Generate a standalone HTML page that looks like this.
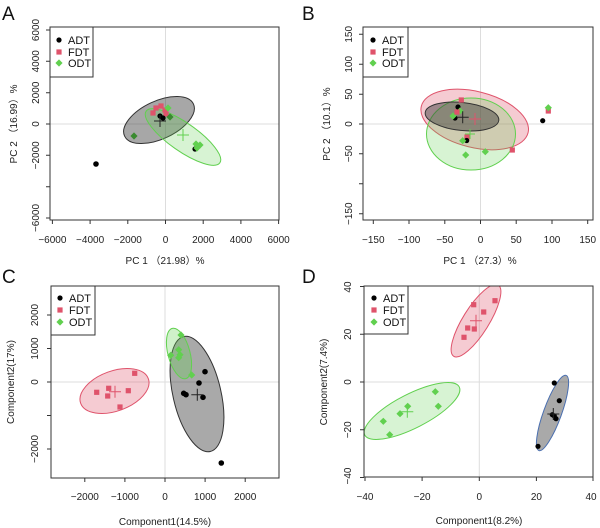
<!DOCTYPE html>
<html><head><meta charset="utf-8"><style>
body{margin:0;background:#fff}
svg{display:block;font-family:"Liberation Sans","Noto Sans CJK SC",sans-serif}
.t{font-size:10px;fill:#222}
.l{font-size:11px;fill:#111}
.L{font-size:19px;fill:#111}
</style></head><body>
<svg width="600" height="528" viewBox="0 0 600 528" xmlns="http://www.w3.org/2000/svg">
<defs>
<g id="sq"><rect x="-2.6" y="-2.6" width="5.2" height="5.2" fill="#df536b"/></g>
<g id="dm"><path d="M0,-3.6 L3.6,0 L0,3.6 L-3.6,0Z" fill="#61d04f"/></g>
<g id="dmd"><path d="M0,-3.6 L3.6,0 L0,3.6 L-3.6,0Z" fill="#3a8a30"/></g>
<clipPath id="cA"><rect x="50" y="27" width="229" height="193"/></clipPath>
<clipPath id="cB"><rect x="363" y="27" width="230" height="193"/></clipPath>
<clipPath id="cC"><rect x="51" y="286" width="228" height="192"/></clipPath>
<clipPath id="cD"><rect x="364" y="286" width="229" height="191"/></clipPath>
</defs>

<!-- Panel letters -->
<text class="L" x="2" y="20">A</text>
<text class="L" x="302" y="20">B</text>
<text class="L" x="2" y="283">C</text>
<text class="L" x="302" y="283">D</text>

<!-- ===== A ===== -->
<g clip-path="url(#cA)">
<line x1="50" y1="124" x2="279" y2="124" stroke="#ddd"/>
<line x1="165.5" y1="27" x2="165.5" y2="220" stroke="#ddd"/>
<ellipse cx="159" cy="120" rx="38" ry="19" transform="rotate(-25 159 120)" fill="rgba(60,60,60,0.45)" stroke="#333"/>
<ellipse cx="183" cy="137" rx="45" ry="14" transform="rotate(35 183 137)" fill="rgba(97,208,79,0.25)" stroke="#61d04f"/>
<circle cx="96" cy="164" r="2.8"/>
<use href="#dmd" x="134" y="136"/>
<use href="#sq" x="156" y="108"/><use href="#sq" x="161" y="106"/><use href="#sq" x="165" y="110"/><use href="#sq" x="153" y="113"/><use href="#sq" x="166" y="114"/>
<circle cx="160" cy="116" r="2.6"/><circle cx="163" cy="118" r="2.6"/>
<use href="#dm" x="168" y="108"/><use href="#dmd" x="170" y="117"/>
<circle cx="195" cy="149" r="2.6"/>
<use href="#dm" x="196" y="144"/><use href="#dm" x="200" y="145"/><use href="#dm" x="197" y="148"/>
<path d="M154,121h12M160,115v12" stroke="#222"/>
<path d="M177,135h12M183,129v12" stroke="#61d04f"/>
</g>
<rect x="50" y="27" width="229" height="193" fill="none" stroke="#333"/>
<rect x="50" y="27" width="43" height="50" fill="#fff" stroke="#333"/>
<circle cx="59" cy="40" r="2.6"/><text class="l" x="68" y="44">ADT</text>
<use href="#sq" x="59" y="52"/><text class="l" x="68" y="56">FDT</text>
<use href="#dm" x="59" y="63"/><text class="l" x="68" y="67">ODT</text>
<g stroke="#333"><path d="M52.4,220v4M90.1,220v4M127.8,220v4M165.5,220v4M203.2,220v4M240.9,220v4M278.6,220v4M50,30h-4M50,61.3h-4M50,92.7h-4M50,124h-4M50,155.3h-4M50,186.7h-4M50,218h-4"/></g>
<g class="t" text-anchor="middle">
<text x="52.4" y="243">−6000</text><text x="90.1" y="243">−4000</text><text x="127.8" y="243">−2000</text><text x="165.5" y="243">0</text><text x="203.2" y="243">2000</text><text x="240.9" y="243">4000</text><text x="278.6" y="243">6000</text>
<text transform="translate(39,30) rotate(-90)">6000</text><text transform="translate(39,61.3) rotate(-90)">4000</text><text transform="translate(39,92.7) rotate(-90)">2000</text><text transform="translate(39,124) rotate(-90)">0</text><text transform="translate(39,155.3) rotate(-90)">−2000</text><text transform="translate(39,218) rotate(-90)">−6000</text>
<text x="165" y="264">PC 1 （21.98）%</text>
<text transform="translate(17,124) rotate(-90)">PC 2 （16.99）%</text>
</g>

<!-- ===== B ===== -->
<g clip-path="url(#cB)">
<line x1="363" y1="124" x2="593" y2="124" stroke="#ddd"/>
<line x1="480.5" y1="27" x2="480.5" y2="220" stroke="#ddd"/>
<ellipse cx="474.7" cy="119.5" rx="55" ry="28" transform="rotate(14 474.7 119.5)" fill="rgba(223,83,107,0.3)" stroke="#df536b"/>
<ellipse cx="471" cy="134" rx="44.5" ry="36" fill="rgba(97,208,79,0.25)" stroke="#61d04f"/>
<ellipse cx="462" cy="116.5" rx="37" ry="14" transform="rotate(6 462 116.5)" fill="rgba(50,50,50,0.45)" stroke="#333"/>
<circle cx="542.7" cy="120.7" r="2.6"/>
<use href="#sq" x="548.3" y="111"/><use href="#dm" x="548.3" y="107.7"/>
<use href="#sq" x="512.3" y="150"/><use href="#dm" x="485.3" y="151.7"/><use href="#dm" x="465.7" y="155"/>
<use href="#sq" x="461.3" y="100"/>
<circle cx="458" cy="107" r="2.6"/><circle cx="455" cy="118" r="2.6"/>
<use href="#dm" x="460" y="111"/><use href="#dm" x="453" y="116"/><use href="#sq" x="457" y="112"/>
<use href="#sq" x="467" y="137"/><circle cx="466.7" cy="140.5" r="2.6"/><use href="#dm" x="462.7" y="140.7"/>
<path d="M456.7,117.3h12M462.7,111.3v12" stroke="#222"/>
<path d="M469,119h12M475,113v12" stroke="#df536b"/>
<path d="M465,134h10M470,129v10" stroke="#61d04f"/>
</g>
<rect x="363" y="27" width="230" height="193" fill="none" stroke="#333"/>
<rect x="363" y="27" width="45" height="50" fill="#fff" stroke="#333"/>
<circle cx="373" cy="40" r="2.6"/><text class="l" x="382" y="44">ADT</text>
<use href="#sq" x="373" y="52"/><text class="l" x="382" y="56">FDT</text>
<use href="#dm" x="373" y="63"/><text class="l" x="382" y="67">ODT</text>
<g stroke="#333"><path d="M373.3,220v4M409,220v4M444.8,220v4M480.5,220v4M516.2,220v4M552,220v4M587.7,220v4M363,34.3h-4M363,64.3h-4M363,94.2h-4M363,124h-4M363,153.8h-4M363,183.8h-4M363,213.7h-4"/></g>
<g class="t" text-anchor="middle">
<text x="373.3" y="243">−150</text><text x="409" y="243">−100</text><text x="444.8" y="243">−50</text><text x="480.5" y="243">0</text><text x="516.2" y="243">50</text><text x="552" y="243">100</text><text x="587.7" y="243">150</text>
<text transform="translate(352,34.3) rotate(-90)">150</text><text transform="translate(352,64.3) rotate(-90)">100</text><text transform="translate(352,94.2) rotate(-90)">50</text><text transform="translate(352,124) rotate(-90)">0</text><text transform="translate(352,153.8) rotate(-90)">−50</text><text transform="translate(352,213.7) rotate(-90)">−150</text>
<text x="480" y="264">PC 1 （27.3）%</text>
<text transform="translate(330,124) rotate(-90)">PC 2 （10.1）%</text>
</g>

<!-- ===== C ===== -->
<g clip-path="url(#cC)">
<line x1="51" y1="382" x2="279" y2="382" stroke="#ddd"/>
<line x1="165" y1="286" x2="165" y2="478" stroke="#ddd"/>
<ellipse cx="114.5" cy="391" rx="36" ry="20" transform="rotate(-20 114.5 391)" fill="rgba(223,83,107,0.3)" stroke="#df536b"/>
<ellipse cx="197" cy="394" rx="24" ry="59" transform="rotate(-13 197 394)" fill="rgba(50,50,50,0.42)" stroke="#333"/>
<ellipse cx="179" cy="353.5" rx="11" ry="26" transform="rotate(-15 179 353.5)" fill="rgba(97,208,79,0.3)" stroke="#61d04f"/>
<use href="#sq" x="96.7" y="392.3"/><use href="#sq" x="108.7" y="388.3"/><use href="#sq" x="107.7" y="396"/><use href="#sq" x="120" y="407"/><use href="#sq" x="128.3" y="390.7"/><use href="#sq" x="134.7" y="373.3"/>
<use href="#dm" x="181" y="335"/><use href="#dm" x="178.7" y="349.7"/><use href="#dm" x="170.7" y="355.3"/><use href="#dm" x="180" y="354.7"/><use href="#dm" x="178.7" y="357.7"/><use href="#dm" x="191.7" y="375"/>
<circle cx="205" cy="371.7" r="2.8"/><circle cx="199" cy="383" r="2.8"/><circle cx="183.7" cy="393.3" r="2.8"/><circle cx="186" cy="394.7" r="2.8"/><circle cx="203" cy="397.3" r="2.8"/><circle cx="221.3" cy="463" r="2.8"/>
<path d="M191.3,394.7h12M197.3,388.7v12" stroke="#222"/>
<path d="M109,391.7h12M115,385.7v12" stroke="#df536b"/>
</g>
<rect x="51" y="286" width="228" height="192" fill="none" stroke="#333"/>
<rect x="51" y="286" width="44" height="49" fill="#fff" stroke="#333"/>
<circle cx="60" cy="298" r="2.6"/><text class="l" x="69" y="302">ADT</text>
<use href="#sq" x="60" y="310"/><text class="l" x="69" y="314">FDT</text>
<use href="#dm" x="60" y="322"/><text class="l" x="69" y="326">ODT</text>
<g stroke="#333"><path d="M84.8,478v4M124.9,478v4M165,478v4M205.1,478v4M245.2,478v4M51,315h-4M51,348.5h-4M51,382h-4M51,415.5h-4M51,449h-4"/></g>
<g class="t" text-anchor="middle">
<text x="84.8" y="500">−2000</text><text x="124.9" y="500">−1000</text><text x="165" y="500">0</text><text x="205.1" y="500">1000</text><text x="245.2" y="500">2000</text>
<text transform="translate(38,315) rotate(-90)">2000</text><text transform="translate(38,348.5) rotate(-90)">1000</text><text transform="translate(38,382) rotate(-90)">0</text><text transform="translate(38,449) rotate(-90)">−2000</text>
<text x="165" y="525">Component1(14.5%)</text>
<text transform="translate(14,382) rotate(-90)">Component2(17%)</text>
</g>

<!-- ===== D ===== -->
<g clip-path="url(#cD)">
<line x1="364" y1="382" x2="593" y2="382" stroke="#ddd"/>
<line x1="479.3" y1="286" x2="479.3" y2="477" stroke="#ddd"/>
<ellipse cx="476" cy="320.7" rx="42" ry="13" transform="rotate(-58 476 320.7)" fill="rgba(223,83,107,0.3)" stroke="#df536b"/>
<ellipse cx="412" cy="411" rx="53" ry="17" transform="rotate(-27 412 411)" fill="rgba(97,208,79,0.25)" stroke="#61d04f"/>
<ellipse cx="552.5" cy="413" rx="40" ry="9" transform="rotate(-70 552.5 413)" fill="rgba(50,50,50,0.42)" stroke="#4a6fb0"/>
<use href="#sq" x="464" y="337.3"/><use href="#sq" x="467.7" y="328"/><use href="#sq" x="474.3" y="329"/><use href="#sq" x="473.7" y="304.7"/><use href="#sq" x="483.7" y="312"/><use href="#sq" x="495" y="300.7"/>
<use href="#dm" x="383.3" y="421.3"/><use href="#dm" x="389.7" y="434.7"/><use href="#dm" x="400" y="413.7"/><use href="#dm" x="407.7" y="406.3"/><use href="#dm" x="435.3" y="391.7"/><use href="#dm" x="438.3" y="406.3"/>
<circle cx="538" cy="446.3" r="2.6"/><circle cx="554.3" cy="383" r="2.6"/><circle cx="559.3" cy="400.7" r="2.6"/><circle cx="552.3" cy="414.7" r="2.6"/><circle cx="556" cy="418.7" r="2.6"/><circle cx="554.3" cy="416" r="2.6"/>
<path d="M547.3,414h12M553.3,408v12" stroke="#222"/>
<path d="M470,320.7h12M476,314.7v12" stroke="#df536b"/>
<path d="M401.3,411.7h12M407.3,405.7v12" stroke="#61d04f"/>
</g>
<rect x="364" y="286" width="229" height="191" fill="none" stroke="#333"/>
<rect x="364" y="286" width="44" height="48" fill="#fff" stroke="#333"/>
<circle cx="374" cy="298" r="2.6"/><text class="l" x="383" y="302">ADT</text>
<use href="#sq" x="374" y="310"/><text class="l" x="383" y="314">FDT</text>
<use href="#dm" x="374" y="322"/><text class="l" x="383" y="326">ODT</text>
<g stroke="#333"><path d="M365,477v4M422.1,477v4M479.3,477v4M536.4,477v4M593,477v4M364,286.5h-4M364,334.3h-4M364,382h-4M364,429.8h-4M364,477.5h-4"/></g>
<g class="t" text-anchor="middle">
<text x="365" y="500">−40</text><text x="422.1" y="500">−20</text><text x="479.3" y="500">0</text><text x="536.4" y="500">20</text><text x="591" y="500">40</text>
<text transform="translate(351,287) rotate(-90)">40</text><text transform="translate(351,334.3) rotate(-90)">20</text><text transform="translate(351,382) rotate(-90)">0</text><text transform="translate(351,429.8) rotate(-90)">−20</text><text transform="translate(351,476) rotate(-90)">−40</text>
<text x="479" y="524">Component1(8.2%)</text>
<text transform="translate(327,382) rotate(-90)">Component2(7.4%)</text>
</g>
</svg>
</body></html>
